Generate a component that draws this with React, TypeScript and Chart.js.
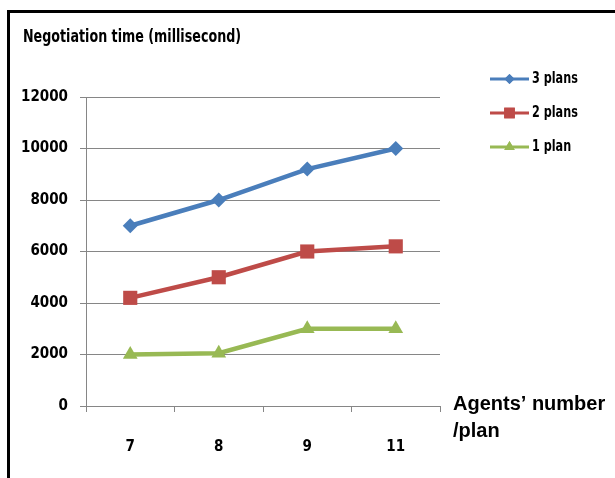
import React, { useEffect, useRef } from "react";
import { Chart, registerables } from "chart.js";
import { drawPoint } from "chart.js/helpers";

Chart.register(...registerables);

const categories = ["7", "8", "9", "11"];
const seriesNames = ["3 plans", "2 plans", "1 plan"];
const threePlans = [7000, 8000, 9200, 10000];
const twoPlans = [4200, 5000, 6000, 6200];
const onePlan = [2000, 2050, 3000, 3000];
const yTicks = [0, 2000, 4000, 6000, 8000, 10000, 12000];
const yTitle = "Negotiation time (millisecond)";
const xTitleLines = ["Agents\u2019 number", "/plan"];

const colors = ["#4a7ebb", "#be4b48", "#98b954"];
const pointStyles = ["rectRot", "rect", "triangle"];
const pointRadii = [7.5, 10, 8.5];
const legendRadii = [5, 7.5, 6];

const NARROW = "'Liberation Sans Narrow', 'DejaVu Sans Condensed', 'Arial Narrow', sans-serif";

function squeezedText(ctx: any, text: string, x: number, y: number, sx: number) {
  ctx.save();
  ctx.translate(x, y);
  ctx.scale(sx, 1);
  ctx.fillText(text, 0, 0);
  ctx.restore();
}

const textPlugin = {
  id: "customText",
  afterDraw(chart: any) {
    const ctx = chart.ctx;
    ctx.save();
    ctx.fillStyle = "#000";
    ctx.textAlign = "left";
    ctx.textBaseline = "alphabetic";
    ctx.font = `bold 17px ${NARROW}`;
    squeezedText(ctx, yTitle, 13, 29, 0.83);

    ctx.font = "bold 20px 'Liberation Sans', Arial, sans-serif";
    ctx.fillText(xTitleLines[0], 443, 397);
    ctx.fillText(xTitleLines[1], 443, 424);

    // legend
    chart.data.datasets.forEach((ds: any, i: number) => {
      const y = 66 + i * 34;
      ctx.strokeStyle = ds.borderColor;
      ctx.lineWidth = 3;
      ctx.beginPath();
      ctx.moveTo(480, y);
      ctx.lineTo(519, y);
      ctx.stroke();
      ctx.fillStyle = ds.borderColor;
      drawPoint(ctx, { pointStyle: ds.pointStyle, radius: legendRadii[i], rotation: 0, borderWidth: 0 }, 499.5, y);
      ctx.fill();
      ctx.fillStyle = "#000";
      ctx.font = `bold 16px ${NARROW}`;
      ctx.textBaseline = "middle";
      squeezedText(ctx, ds.label, 522, y, 0.78);
    });
    ctx.restore();
  },
};

export default function App() {
  const ref = useRef<HTMLCanvasElement>(null);
  useEffect(() => {
    if (!ref.current) return;
    const seriesValues = [threePlans, twoPlans, onePlan];
    const chart = new Chart(ref.current, {
      type: "line",
      data: {
        labels: categories,
        datasets: seriesNames.map((name, i) => ({
          label: name,
          data: seriesValues[i],
          borderColor: colors[i],
          backgroundColor: colors[i],
          pointBackgroundColor: colors[i],
          pointBorderColor: colors[i],
          pointBorderWidth: 0,
          pointStyle: pointStyles[i] as any,
          pointRadius: pointRadii[i],
          borderWidth: 4.5,
          tension: 0,
        })),
      },
      options: {
        responsive: false,
        animation: false,
        devicePixelRatio: 1,
        layout: { padding: { left: 0, top: 84, right: 175, bottom: 22 } },
        plugins: {
          legend: { display: false },
          title: { display: false },
          tooltip: { enabled: false },
        },
        scales: {
          x: {
            type: "category",
            offset: true,
            grid: { offset: true, drawOnChartArea: false, tickLength: 6, color: "#868686", lineWidth: 1 },
            border: { color: "#868686", width: 1 },
            ticks: { color: "#000", font: { family: NARROW, size: 15, weight: "bold" }, padding: 26 },
            afterFit: (s: any) => { s.height = 50; },
          },
          y: {
            min: 0,
            max: 12000,
            afterBuildTicks: (s: any) => { s.ticks = yTicks.map((v) => ({ value: v })); },
            grid: { tickLength: 6, color: "#868686", lineWidth: 1 },
            border: { color: "#868686", width: 1 },
            ticks: {
              color: "#000",
              font: { family: NARROW, size: 15, weight: "bold" },
              padding: 12,
              callback: (v: any) => String(v),
            },
            afterFit: (s: any) => { s.width = 76; },
          },
        },
      },
      plugins: [textPlugin],
    });
    return () => chart.destroy();
  }, []);
  return (
    <div
      style={{
        position: "absolute",
        left: 7,
        top: 10,
        right: 0,
        bottom: 0,
        borderTop: "3px solid #000",
        borderLeft: "3px solid #000",
        boxSizing: "border-box",
        background: "#fff",
        overflow: "hidden",
      }}
    >
      <canvas ref={ref} width={605} height={465} style={{ display: "block" }} />
    </div>
  );
}
